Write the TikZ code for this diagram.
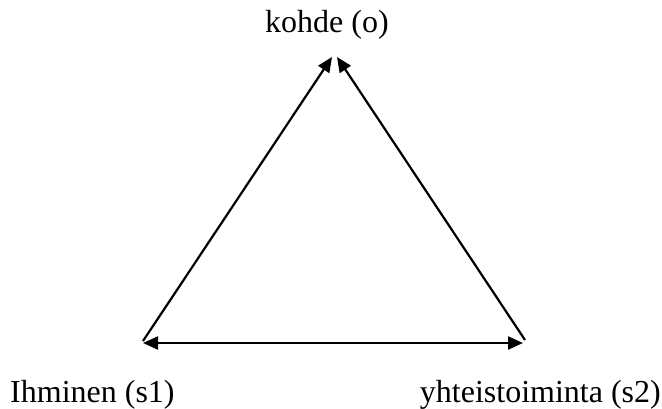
\documentclass[tikz,border=0pt]{standalone}
\usepackage{fontspec}
\setmainfont{Liberation Serif}
\usetikzlibrary{arrows.meta}
\begin{document}
\begin{tikzpicture}[x=1pt,y=1pt,
  lbl/.style={inner sep=0pt,font=\fontsize{32}{38}\selectfont},
  conn/.style={line width=2.2pt,-{Triangle[length=15pt,width=13pt]}},
  dconn/.style={line width=2.2pt,{Triangle[length=15pt,width=13pt]}-{Triangle[length=15pt,width=13pt]}}]
\useasboundingbox (0,0) rectangle (662,408);
\node[lbl,anchor=base] (o) at (327,375) {kohde (o)};
\node[lbl,anchor=base west] (s1) at (10,6) {Ihminen (s1)};
\node[lbl,anchor=base east] (s2) at (661,6) {yhteistoiminta (s2)};
\coordinate (tl) at (332,351);
\coordinate (tr) at (337,351);
\coordinate (l) at (143,67);
\coordinate (r) at (525,68);
\coordinate (bl) at (143,65);
\coordinate (br) at (523,65);
\draw[conn] (l) -- (tl);
\draw[conn] (r) -- (tr);
\draw[dconn] (bl) -- (br);
\end{tikzpicture}
\end{document}
